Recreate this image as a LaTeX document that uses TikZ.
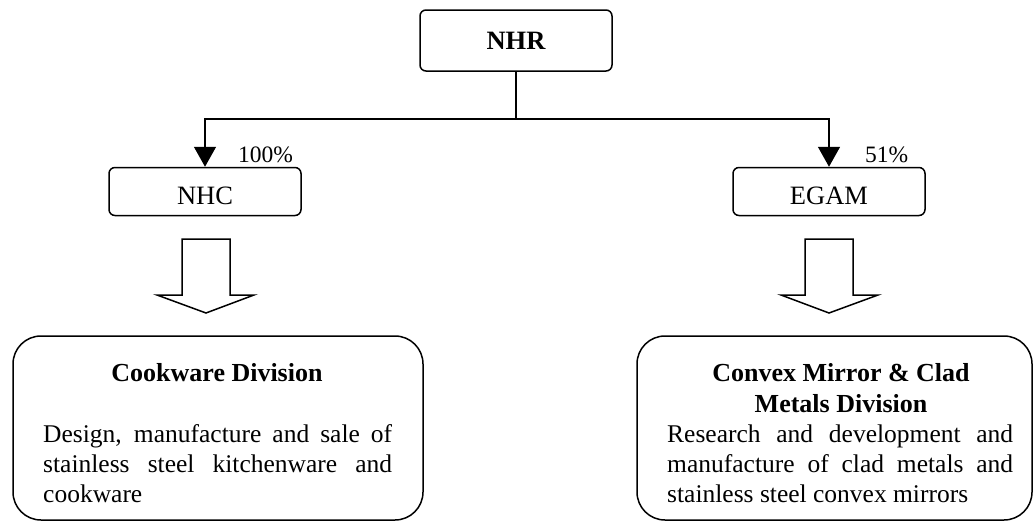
\documentclass[tikz,border=0pt]{standalone}
\usepackage{fontspec}
\setmainfont{Liberation Serif}
\usetikzlibrary{arrows.meta}
\begin{document}
\begin{tikzpicture}[x=1pt,y=-1pt,
  lw/.style={line width=1.5pt},
  smallbox/.style={lw, draw=black, rounded corners=6pt, inner sep=0pt, minimum width=192pt, font=\fontsize{26.5}{30}\selectfont},
  bigbox/.style={lw, draw=black, rounded corners=28pt, inner sep=0pt, minimum height=184pt},
  conn/.style={lw, -{Triangle[width=22pt,length=20pt]}},
  hollow/.style={lw, line join=miter},
  pct/.style={font=\fontsize{23.5}{28}\selectfont, inner sep=0pt, anchor=base west},
  ttl/.style={font=\fontsize{26}{30}\selectfont\bfseries, inner sep=0pt, anchor=base},
  body/.style={font=\fontsize{25.5}{30}\selectfont, inner sep=0pt, anchor=base west}
]
\fill[white] (0,0) rectangle (1033,522);
\useasboundingbox (0,0) rectangle (1033,522);

% top node
\node[smallbox, minimum height=61pt] (nhr) at (516,40.5) {};
\node[font=\fontsize{26.5}{30}\selectfont\bfseries, inner sep=0pt, anchor=base] (nhrt) at (516,49) {NHR};

% subsidiaries
\node[smallbox, minimum height=48pt] (nhc) at (205,191.5) {};
\node[font=\fontsize{26.5}{30}\selectfont, inner sep=0pt, anchor=base] (nhct) at (205,204) {NHC};
\node[smallbox, minimum height=48pt] (egam) at (829,191.5) {};
\node[font=\fontsize{26.5}{30}\selectfont, inner sep=0pt, anchor=base] (egamt) at (829,204) {EGAM};

% connectors
\coordinate (j) at (516,119);
\draw[lw] (nhr.south) -- (j);
\draw[conn] (j) -| (nhc.north);
\draw[conn] (j) -| (egam.north);

\node[pct] (p1) at (238,162) {100\%};
\node[pct] (p2) at (865,162) {51\%};

% hollow arrows
\draw[hollow] (182,239) -- (230,239) -- (230,295) -- (254,295) -- (206,313) -- (157,295) -- (182,295) -- cycle;
\draw[hollow] (805,239) -- (853,239) -- (853,295) -- (878,295) -- (829,313) -- (781,295) -- (805,295) -- cycle;

% division boxes
\node[bigbox, minimum width=410pt] (cook) at (218,428) {};
\node[bigbox, minimum width=395pt] (conv) at (834.5,428) {};

\node[ttl] (ct) at (217,381) {Cookware Division};
\node[body] (c1) at (43,442) {\makebox[349pt][s]{Design, manufacture and sale of}};
\node[body] (c2) at (43,472) {\makebox[349pt][s]{stainless steel kitchenware and}};
\node[body] (c3) at (43,502) {cookware};

\node[ttl] (vt1) at (841,381) {Convex Mirror \& Clad};
\node[ttl] (vt2) at (841,412) {Metals Division};
\node[body] (v1) at (667,442) {\makebox[346pt][s]{Research and development and}};
\node[body] (v2) at (667,472) {\makebox[346pt][s]{manufacture of clad metals and}};
\node[body] (v3) at (667,502) {stainless steel convex mirrors};
\end{tikzpicture}
\end{document}
